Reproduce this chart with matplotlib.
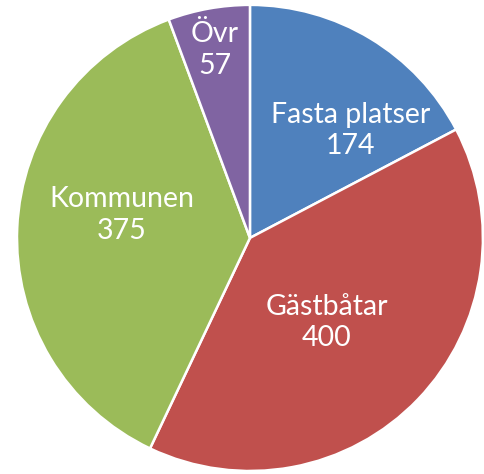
import numpy as np
import matplotlib
matplotlib.use('Agg')
import matplotlib.pyplot as plt

labels = ['Fasta platser', 'Gästbåtar', 'Kommunen', 'Övr']
values = [174, 400, 375, 57]
colors = ['#4F81BD', '#C0504D', '#9BBB59', '#8064A2']

# label placement inside each wedge (fraction of radius, angle shift from wedge middle)
label_dist = [0.63, 0.49, 0.56, 0.82]
label_shift = [-12, -4, -7.6, 0.4]

plt.rcParams['font.family'] = ['Lato', 'DejaVu Sans']

fig = plt.figure(figsize=(4.85, 4.74), dpi=100)
ax = fig.add_axes([0, 0, 1, 1])

wedges, _ = ax.pie(values, colors=colors, startangle=90, counterclock=False,
                   wedgeprops=dict(edgecolor='white', linewidth=1.8))

for w, lab, val, d, s in zip(wedges, labels, values, label_dist, label_shift):
    ang = np.deg2rad((w.theta1 + w.theta2) / 2 + s)
    ax.text(d * np.cos(ang), d * np.sin(ang), f'{lab}\n{val}',
            ha='center', va='center', multialignment='center',
            color='white', fontsize=20.5, linespacing=1.25)

ax.set_aspect('auto')
ax.set_xlim(-1.073, 1.009)
ax.set_ylim(-1.013, 1.021)
ax.axis('off')

fig.savefig('out.png', dpi=100)
